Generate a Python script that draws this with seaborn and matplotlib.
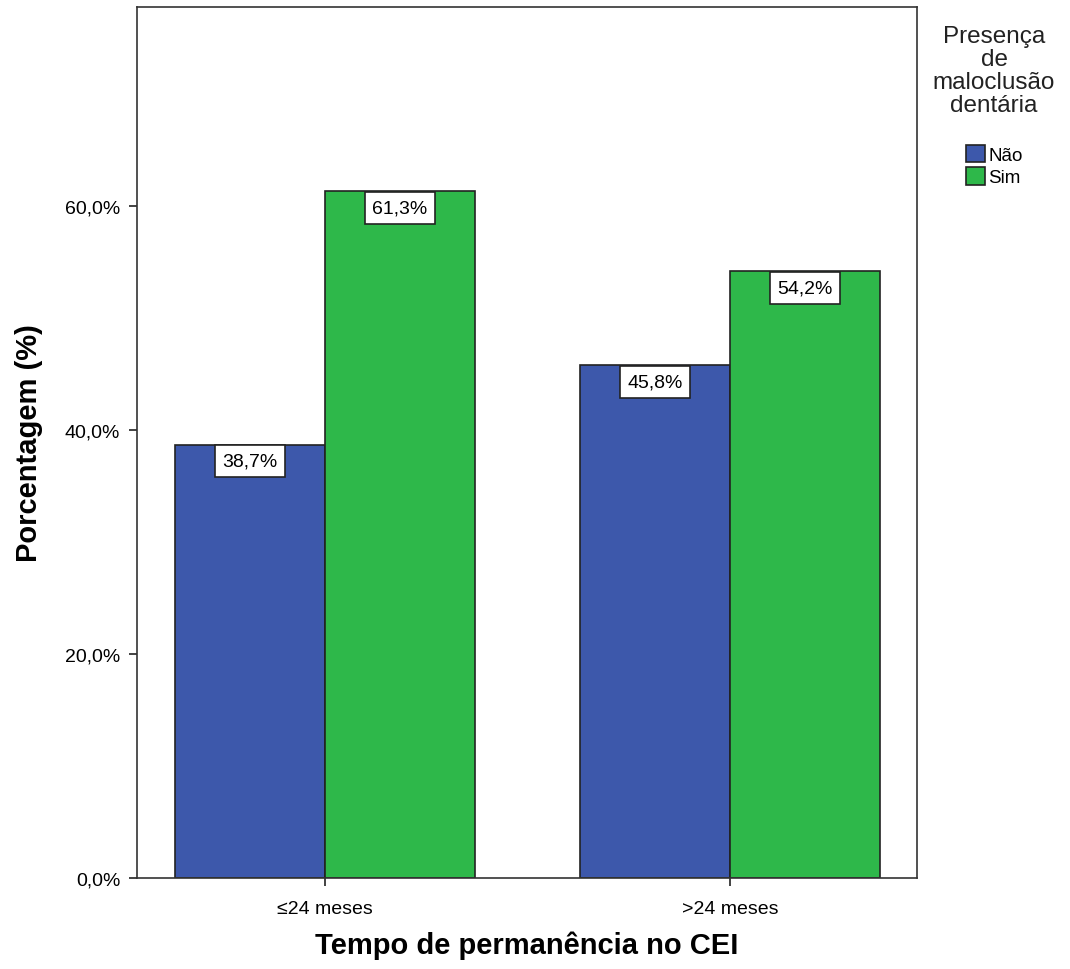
import pandas as pd
import seaborn as sns
import matplotlib.pyplot as plt
from matplotlib.ticker import FuncFormatter

categories = ["≤24 meses", ">24 meses"]
groups = ["Não", "Sim"]
nao = [38.7, 45.8]
sim = [61.3, 54.2]

df = pd.DataFrame({
    "tempo": categories * 2,
    "grupo": [groups[0]] * 2 + [groups[1]] * 2,
    "pct": nao + sim,
})

sns.set_style("ticks")
plt.rcParams['font.family'] = ['Liberation Sans', 'DejaVu Sans']
plt.rcParams['text.color'] = 'black'
plt.rcParams['axes.labelcolor'] = 'black'
plt.rcParams['xtick.color'] = 'black'
plt.rcParams['ytick.color'] = 'black'

fig = plt.figure(figsize=(10.7, 9.7), dpi=100)
ax = fig.add_axes([0.128, 0.094, 0.729, 0.898])

palette = {"Não": "#3d58ab", "Sim": "#2eb84a"}
sns.barplot(data=df, x="tempo", y="pct", hue="grupo", order=categories,
            hue_order=groups, palette=palette, width=0.74, saturation=1,
            edgecolor="#222222", linewidth=1.2, ax=ax)

ax.set_xlim(-0.464, 1.462)
ax.set_ylim(0, 77.8)
ax.set_yticks([0, 20, 40, 60])
ax.yaxis.set_major_formatter(FuncFormatter(lambda v, p: f"{v:.1f}%".replace(".", ",")))
ax.tick_params(axis="both", labelsize=14, length=6, width=1.2, color="#222222")
ax.tick_params(axis="x", pad=10)
ax.tick_params(axis="y", pad=6)
for s in ax.spines.values():
    s.set_visible(True)
    s.set_color("#333333")
    s.set_linewidth(1.2)

ax.set_xlabel("Tempo de permanência no CEI", fontsize=21, fontweight="bold", labelpad=10)
ax.set_ylabel("Porcentagem (%)", fontsize=21, fontweight="bold", labelpad=16)

for cont in ax.containers:
    for bar in cont:
        h = bar.get_height()
        ax.annotate(f"{h:.1f}%".replace(".", ","),
                    (bar.get_x() + bar.get_width() / 2, h),
                    xytext=(0, -6), textcoords="offset points",
                    ha="center", va="top", fontsize=14,
                    bbox=dict(boxstyle="square,pad=0.38", fc="white", ec="#222222", lw=1.2))

handles, labels = ax.get_legend_handles_labels()
ax.get_legend().remove()
fig.text(994 / 1070, 1 - 26 / 970, "Presença\nde\nmaloclusão\ndentária",
         ha="center", va="top", fontsize=17.5, linespacing=1.05, color="#222222")
fig.legend(handles, labels, loc="upper left", bbox_to_anchor=(958 / 1070, 1 - 138 / 970),
           frameon=False, fontsize=13.5, handlelength=1.05, handleheight=1.05,
           handletextpad=0.15, labelspacing=0.2, borderaxespad=0)

fig.savefig("out.png", dpi=100, facecolor="white")
